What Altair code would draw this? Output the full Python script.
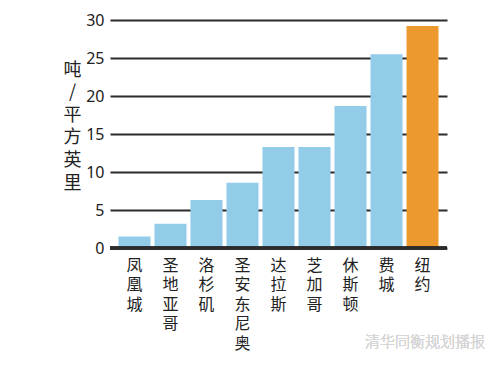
import altair as alt
import pandas as pd

cities = ["凤凰城", "圣地亚哥", "洛杉矶", "圣安东尼奥", "达拉斯", "芝加哥", "休斯顿", "费城", "纽约"]
values = [1.5, 3.2, 6.3, 8.6, 13.3, 13.3, 18.7, 25.5, 29.2]
groups = ["其他"] * 8 + ["纽约"]
y_ticks = [0, 5, 10, 15, 20, 25, 30]
y_title = ["吨", "/", "平", "方", "英", "里"]
watermark = "清华同衡规划播报"

df = pd.DataFrame({"city": cities, "value": values, "group": groups})

cjk = "Noto Sans CJK SC"

base = alt.Chart(df)

bars = base.mark_bar().encode(
    x=alt.X("city:N", sort=cities,
            scale=alt.Scale(paddingInner=0.11, paddingOuter=0.235),
            axis=alt.Axis(title=None, domain=False, ticks=False, labelAngle=0,
                          labelExpr="split(datum.label, '')",
                          labelFont=cjk, labelFontSize=16, labelLineHeight=19.5,
                          labelColor="#222", labelBaseline="top", labelPadding=9)),
    y=alt.Y("value:Q", scale=alt.Scale(domain=[0, 30], nice=False),
            axis=alt.Axis(values=y_ticks, title=y_title, titleAngle=0,
                          titleFont=cjk, titleFontSize=18, titleFontWeight="normal",
                          titleLineHeight=22.6, titleColor="#222",
                          titleX=-38, titleY=41, titleAlign="center", titleBaseline="top",
                          domain=False, ticks=False, labelFont="Noto Sans",
                          labelFontSize=16, labelColor="#222", labelPadding=6,
                          labelOverlap=False,
                          grid=True, gridColor="#2b2b2b", gridWidth=2)),
    color=alt.Color("group:N", scale=alt.Scale(domain=["其他", "纽约"],
                                               range=["#92CCE8", "#EC9A2E"]), legend=None),
)

baseline = base.mark_rule(color="#2b2b2b", strokeWidth=2.5).encode(
    y=alt.YDatum(0, axis=None), x=alt.value(0), x2=alt.value(337)
)

wm = base.mark_text(font=cjk, fontSize=15, fontWeight="lighter", color="#d6d6d6", align="right").encode(
    text=alt.value(watermark), x=alt.value(375), y=alt.value(322)
)

chart = alt.layer(bars, baseline, wm).resolve_axis(y="independent").properties(
    width=337, height=228,
    autosize=alt.AutoSizeParams(type="none"),
    padding={"left": 102, "top": 12, "right": 40, "bottom": 110},
).configure_view(stroke=None)

chart.save("out.html", embed_options={"renderer": "svg", "actions": False})
